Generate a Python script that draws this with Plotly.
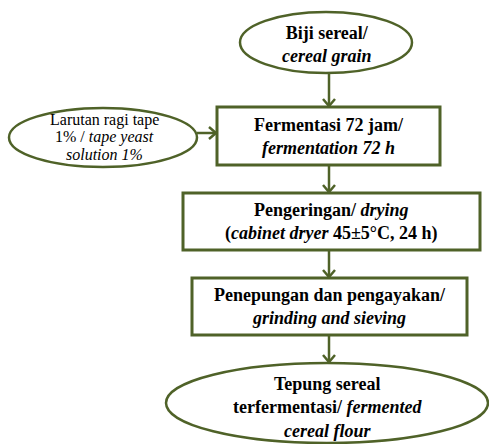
import plotly.graph_objects as go

# ---- data: node labels (flowchart steps) ----
start_label = "<b>Biji sereal/</b><br><b><i>cereal grain</i></b>"
input_lines = ["Larutan ragi tape", "1% / <i>tape yeast</i>", "<i>solution 1%</i>"]
step_labels = [
    "<b>Fermentasi 72 jam/</b><br><b><i>fermentation 72 h</i></b>",
    "<b>Pengeringan/ <i>drying</i></b><br><b>(<i>cabinet dryer</i> 45±5°C, 24 h)</b>",
    "<b>Penepungan dan pengayakan/</b><br><b><i>grinding and sieving</i></b>",
]
end_label = "<b>Tepung sereal</b><br><b>terfermentasi/ <i>fermented</i></b><br><b><i>cereal flour</i></b>"

W, H = 489, 444
GREEN = "#4F6228"
FONT = "Liberation Serif, Times New Roman, Tinos, serif"

# layout geometry (pixels)
start_box = (240, 12, 412, 73)
input_box = (9, 108, 197, 167)
step_boxes = [(217, 107, 440, 165), (183, 193, 480, 250), (192, 278, 467, 335)]
end_box = (166, 363, 488, 443)
AX = 329

shapes = []
annotations = []

def ellipse(b):
    shapes.append(dict(type="circle", xref="x", yref="y", x0=b[0], y0=b[1], x1=b[2], y1=b[3],
                       line=dict(color=GREEN, width=2.5), fillcolor="white", layer="below"))

def rect(b):
    shapes.append(dict(type="rect", xref="x", yref="y", x0=b[0], y0=b[1], x1=b[2], y1=b[3],
                       line=dict(color=GREEN, width=3), fillcolor="white", layer="below"))

def label(x, y, text, size):
    annotations.append(dict(x=x, y=y, xref="x", yref="y",
                            text=text, showarrow=False, align="center",
                            font=dict(family=FONT, size=size, color="black")))

def arrow(x0, y0, x1, y1):
    shapes.append(dict(type="line", xref="x", yref="y", x0=x0, y0=y0, x1=x1, y1=y1,
                       line=dict(color=GREEN, width=2.5)))
    if x0 == x1:  # vertical, pointing down
        path = f"M {x1-6},{y1-8} L {x1},{y1-1} L {x1+6},{y1-8}"
    else:  # horizontal, pointing right
        path = f"M {x1-8},{y1-6} L {x1-1},{y1} L {x1-8},{y1+6}"
    shapes.append(dict(type="path", xref="x", yref="y", path=path,
                       line=dict(color=GREEN, width=2.5)))

ellipse(start_box)
ellipse(input_box)
for b in step_boxes:
    rect(b)
ellipse(end_box)

arrow(AX, start_box[3], AX, step_boxes[0][1])
arrow(input_box[2], 133, step_boxes[0][0], 133)
arrow(AX, step_boxes[0][3], AX, step_boxes[1][1])
arrow(AX, step_boxes[1][3], AX, step_boxes[2][1])
arrow(AX, step_boxes[2][3], AX, end_box[1])

cx = lambda b: (b[0] + b[2]) / 2
cy = lambda b: (b[1] + b[3]) / 2

label(cx(start_box) + 1, cy(start_box) + 2, start_label, 18)
for i, t in enumerate(input_lines):
    label(cx(input_box) + 1, 120 + 17 * i, t, 16)
for b, t in zip(step_boxes, step_labels):
    label(cx(b), cy(b), t, 18)
label(cx(end_box), cy(end_box) + 4, end_label, 18)

fig = go.Figure()
fig.update_layout(
    width=W, height=H, margin=dict(l=0, r=0, t=0, b=0),
    paper_bgcolor="white", plot_bgcolor="white",
    xaxis=dict(range=[0, W], visible=False, fixedrange=True),
    yaxis=dict(range=[H, 0], visible=False, fixedrange=True),
    shapes=shapes, annotations=annotations, showlegend=False,
)
fig.write_html("out.html", config={"displayModeBar": False},
               post_script="document.body.style.margin='0';document.body.style.overflow='hidden';")
